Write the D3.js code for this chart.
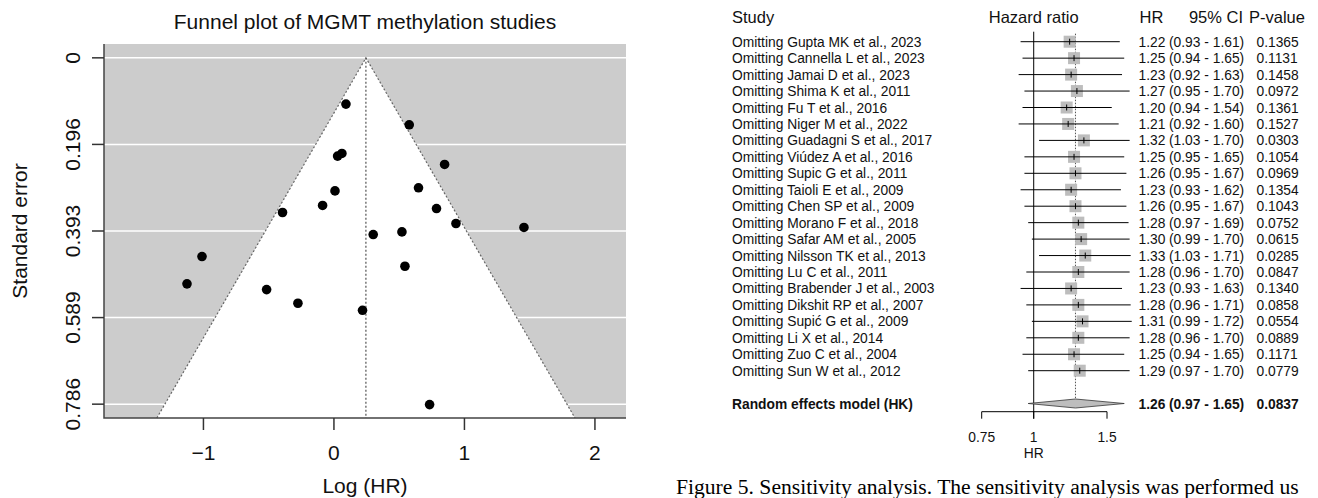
<!DOCTYPE html>
<html>
<head>
<meta charset="utf-8">
<script src="https://cdn.jsdelivr.net/npm/d3@7/dist/d3.min.js"></script>
<style>
  body { margin: 0; background: #fff; }
  svg text { font-family: "Liberation Sans", Arial, Helvetica, sans-serif; }
  svg text.caption { font-family: "Liberation Serif", "Times New Roman", serif; }
</style>
</head>
<body>
<div id="chart"></div>
<script>

////////////////////////////////////////////////////////
// Data ////////////////////////////////////////////////
////////////////////////////////////////////////////////

// funnel plot: log(HR) and standard error of each study
var logHR = [0.092, 0.577, 0.061, 0.028, 0.848, 0.648, 0.008, -0.087, 0.786, -0.394, 0.935,
             1.456, 0.521, 0.301, -1.011, 0.544, -1.126, -0.516, -0.276, 0.219, 0.733];
var stdErr = [0.105, 0.152, 0.217, 0.223, 0.242, 0.295, 0.302, 0.335, 0.342, 0.351, 0.376,
              0.385, 0.395, 0.401, 0.451, 0.473, 0.513, 0.526, 0.557, 0.573, 0.787];
var funnelEstimate = 0.245;
var seTicks = [0, 0.1965, 0.393, 0.5895, 0.786];
var seTickLabels = ["0", "0.196", "0.393", "0.589", "0.786"];
var xTicks = [-1, 0, 1, 2];

// leave-one-out forest plot
var studies = ["Omitting Gupta MK et al., 2023", "Omitting Cannella L et al., 2023", "Omitting Jamai D et al., 2023",
  "Omitting Shima K et al., 2011", "Omitting Fu T et al., 2016", "Omitting Niger M et al., 2022",
  "Omitting Guadagni S et al., 2017", "Omitting Viúdez A et al., 2016", "Omitting Supic G et al., 2011",
  "Omitting Taioli E et al., 2009", "Omitting Chen SP et al., 2009", "Omitting Morano F et al., 2018",
  "Omitting Safar AM et al., 2005", "Omitting Nilsson TK et al., 2013", "Omitting Lu C et al., 2011",
  "Omitting Brabender J et al., 2003", "Omitting Dikshit RP et al., 2007", "Omitting Supić G et al., 2009",
  "Omitting Li X et al., 2014", "Omitting Zuo C et al., 2004", "Omitting Sun W et al., 2012"];
var hr    = [1.22, 1.25, 1.23, 1.27, 1.20, 1.21, 1.32, 1.25, 1.26, 1.23, 1.26, 1.28, 1.30, 1.33, 1.28, 1.23, 1.28, 1.31, 1.28, 1.25, 1.29];
var lower = [0.93, 0.94, 0.92, 0.95, 0.94, 0.92, 1.03, 0.95, 0.95, 0.93, 0.95, 0.97, 0.99, 1.03, 0.96, 0.93, 0.96, 0.99, 0.96, 0.94, 0.97];
var upper = [1.61, 1.65, 1.63, 1.70, 1.54, 1.60, 1.70, 1.65, 1.67, 1.62, 1.67, 1.69, 1.70, 1.71, 1.70, 1.63, 1.71, 1.72, 1.70, 1.65, 1.70];
var pvals = ["0.1365", "0.1131", "0.1458", "0.0972", "0.1361", "0.1527", "0.0303", "0.1054", "0.0969", "0.1354", "0.1043",
             "0.0752", "0.0615", "0.0285", "0.0847", "0.1340", "0.0858", "0.0554", "0.0889", "0.1171", "0.0779"];
var pooled = { label: "Random effects model (HK)", hr: 1.26, lower: 0.97, upper: 1.65, p: "0.0837" };
var hrTicks = [0.75, 1, 1.5];

// caption as far as it shows in the figure crop
var caption = "Figure 5. Sensitivity analysis. The sensitivity analysis was performed us";

////////////////////////////////////////////////////////
// SVG /////////////////////////////////////////////////
////////////////////////////////////////////////////////

var cfg = { width: 1318, height: 498, back: "#cccccc", ink: "#111" };

var svg = d3.select("#chart").append("svg")
    .attr("width", cfg.width)
    .attr("height", cfg.height);

////////////////////////////////////////////////////////
// Funnel plot /////////////////////////////////////////
////////////////////////////////////////////////////////

var x = d3.scaleLinear().domain([-1.762, 2.238]).range([104, 626]);
var y = d3.scaleLinear().domain([-0.0314, 0.8174]).range([44, 418]);

var fp = svg.append("g");
var x0 = x.range()[0], x1 = x.range()[1], y0 = y.range()[0], y1 = y.range()[1];
var seMax = y.domain()[1];

fp.append("rect")
    .attr("x", x0).attr("y", y0)
    .attr("width", x1 - x0).attr("height", y1 - y0)
    .attr("fill", cfg.back);

fp.selectAll(".grid")
  .data(seTicks)
  .enter().append("line")
    .attr("x1", x0).attr("x2", x1)
    .attr("y1", function(d) { return y(d); })
    .attr("y2", function(d) { return y(d); })
    .attr("stroke", "#fff")
    .attr("stroke-width", 1.5);

// white funnel region
var funnelPts = [[funnelEstimate - 1.96 * seMax, seMax], [funnelEstimate, 0], [funnelEstimate + 1.96 * seMax, seMax]];
fp.append("path")
    .attr("d", "M" + funnelPts.map(function(p) { return x(p[0]) + "," + y(p[1]); }).join("L") + "Z")
    .attr("fill", "#fff");

fp.append("path")
    .attr("d", d3.line().x(function(p) { return x(p[0]); }).y(function(p) { return y(p[1]); })(funnelPts))
    .attr("fill", "none")
    .attr("stroke", "#666")
    .attr("stroke-width", 1.2)
    .attr("stroke-dasharray", "2,2");

fp.append("line")
    .attr("x1", x(funnelEstimate)).attr("x2", x(funnelEstimate))
    .attr("y1", y(0)).attr("y2", y1)
    .attr("stroke", "#444")
    .attr("stroke-width", 1.1)
    .attr("stroke-dasharray", "2,2");

fp.selectAll(".pt")
  .data(logHR)
  .enter().append("circle")
    .attr("cx", function(d) { return x(d); })
    .attr("cy", function(d, i) { return y(stdErr[i]); })
    .attr("r", 4.8)
    .attr("fill", "#000");

// box (left + bottom)
fp.append("path")
    .attr("d", "M" + x0 + "," + y0 + "V" + y1 + "H" + x1)
    .attr("fill", "none")
    .attr("stroke", "#444")
    .attr("stroke-width", 1.5);

// axes
fp.selectAll(".xt")
  .data(xTicks)
  .enter().append("line")
    .attr("x1", function(d) { return x(d); }).attr("x2", function(d) { return x(d); })
    .attr("y1", y1).attr("y2", y1 + 12)
    .attr("stroke", "#333").attr("stroke-width", 1.5);

fp.selectAll(".xl")
  .data(xTicks)
  .enter().append("text")
    .attr("x", function(d) { return x(d); })
    .attr("y", 460)
    .attr("text-anchor", "middle")
    .attr("font-size", 21)
    .attr("fill", cfg.ink)
    .text(function(d) { return d < 0 ? "\u2212" + Math.abs(d) : d; });

fp.selectAll(".yt")
  .data(seTicks)
  .enter().append("line")
    .attr("x1", x0 - 12).attr("x2", x0)
    .attr("y1", function(d) { return y(d); })
    .attr("y2", function(d) { return y(d); })
    .attr("stroke", "#333").attr("stroke-width", 1.5);

fp.selectAll(".yl")
  .data(seTicks)
  .enter().append("text")
    .attr("transform", function(d) { return "translate(80," + y(d) + ") rotate(-90)"; })
    .attr("text-anchor", "middle")
    .attr("font-size", 21)
    .attr("fill", cfg.ink)
    .text(function(d, i) { return seTickLabels[i]; });

fp.append("text")
    .attr("x", (x0 + x1) / 2).attr("y", 29)
    .attr("text-anchor", "middle")
    .attr("font-size", 21)
    .attr("fill", cfg.ink)
    .text("Funnel plot of MGMT methylation studies");

fp.append("text")
    .attr("x", (x0 + x1) / 2).attr("y", 493)
    .attr("text-anchor", "middle")
    .attr("font-size", 21)
    .attr("fill", cfg.ink)
    .text("Log (HR)");

fp.append("text")
    .attr("transform", "translate(27," + (y(0) + y(0.786)) / 2 + ") rotate(-90)")
    .attr("text-anchor", "middle")
    .attr("font-size", 21)
    .attr("fill", cfg.ink)
    .text("Standard error");

////////////////////////////////////////////////////////
// Forest plot /////////////////////////////////////////
////////////////////////////////////////////////////////

var fx = d3.scaleLog().domain([0.75, 1.5]).range([981.7, 1107]);
var rowY = d3.scaleLinear().domain([0, studies.length - 1]).range([41.7, 370.7]);
var diamondY = 403.5, axisY = 411.7;
var col = { study: 732, hr: 1138.5, ci: 1169, p: 1256.5 };
var rowFont = 13.8, headFont = 16.5;

var fo = svg.append("g");

// headers
fo.append("text").attr("x", col.study).attr("y", 23).attr("font-size", headFont).attr("fill", cfg.ink).text("Study");
fo.append("text").attr("x", fx(1)).attr("y", 23).attr("text-anchor", "middle").attr("font-size", headFont).attr("fill", cfg.ink).text("Hazard ratio");
fo.append("text").attr("x", col.hr + 1).attr("y", 23).attr("font-size", headFont).attr("fill", cfg.ink).text("HR");
fo.append("text").attr("x", 1243).attr("y", 23).attr("text-anchor", "end").attr("font-size", headFont).attr("fill", cfg.ink).text("95% CI");
fo.append("text").attr("x", 1249).attr("y", 23).attr("font-size", headFont).attr("fill", cfg.ink).text("P-value");

// reference line at HR = 1 and dotted pooled line
fo.append("line")
    .attr("x1", fx(1)).attr("x2", fx(1))
    .attr("y1", rowY(0) - 10).attr("y2", axisY + 7)
    .attr("stroke", "#000").attr("stroke-width", 1);

fo.append("line")
    .attr("x1", fx(pooled.hr)).attr("x2", fx(pooled.hr))
    .attr("y1", rowY(0) - 8).attr("y2", diamondY - 5)
    .attr("stroke", "#555").attr("stroke-width", 1)
    .attr("stroke-dasharray", "1.5,1.5");

var rows = fo.selectAll(".row")
  .data(studies)
  .enter().append("g")
    .attr("transform", function(d, i) { return "translate(0," + rowY(i) + ")"; });

rows.append("rect")
    .attr("x", function(d, i) { return fx(hr[i]) - 6; })
    .attr("y", -6)
    .attr("width", 12).attr("height", 12)
    .attr("fill", "#bdbdbd");

rows.append("line")
    .attr("x1", function(d, i) { return fx(lower[i]); })
    .attr("x2", function(d, i) { return fx(upper[i]); })
    .attr("y1", 0).attr("y2", 0)
    .attr("stroke", "#000").attr("stroke-width", 1);

rows.append("line")
    .attr("x1", function(d, i) { return fx(hr[i]); })
    .attr("x2", function(d, i) { return fx(hr[i]); })
    .attr("y1", -3).attr("y2", 3)
    .attr("stroke", "#000").attr("stroke-width", 1);

rows.append("text").attr("x", col.study).attr("y", 5).attr("font-size", rowFont).attr("fill", cfg.ink)
    .text(function(d) { return d; });
rows.append("text").attr("x", col.hr).attr("y", 5).attr("font-size", rowFont).attr("fill", cfg.ink)
    .text(function(d, i) { return hr[i].toFixed(2); });
rows.append("text").attr("x", col.ci).attr("y", 5).attr("font-size", rowFont).attr("fill", cfg.ink)
    .text(function(d, i) { return "(" + lower[i].toFixed(2) + " - " + upper[i].toFixed(2) + ")"; });
rows.append("text").attr("x", col.p).attr("y", 5).attr("font-size", rowFont).attr("fill", cfg.ink)
    .text(function(d, i) { return pvals[i]; });

// pooled diamond
fo.append("path")
    .attr("d", "M" + fx(pooled.lower) + "," + diamondY +
               "L" + fx(pooled.hr) + "," + (diamondY - 4.5) +
               "L" + fx(pooled.upper) + "," + diamondY +
               "L" + fx(pooled.hr) + "," + (diamondY + 4.5) + "Z")
    .attr("fill", "#bdbdbd")
    .attr("stroke", "#333")
    .attr("stroke-width", 0.8);

var pr = fo.append("g").attr("transform", "translate(0," + diamondY + ")")
    .attr("font-weight", "bold").attr("font-size", rowFont).attr("fill", cfg.ink);
pr.append("text").attr("x", col.study).attr("y", 5).text(pooled.label);
pr.append("text").attr("x", col.hr).attr("y", 5).text(pooled.hr.toFixed(2));
pr.append("text").attr("x", col.ci).attr("y", 5).text("(" + pooled.lower.toFixed(2) + " - " + pooled.upper.toFixed(2) + ")");
pr.append("text").attr("x", col.p).attr("y", 5).text(pooled.p);

// x axis
fo.append("line")
    .attr("x1", fx(hrTicks[0])).attr("x2", fx(hrTicks[hrTicks.length - 1]))
    .attr("y1", axisY).attr("y2", axisY)
    .attr("stroke", "#000").attr("stroke-width", 1);

fo.selectAll(".ht")
  .data(hrTicks)
  .enter().append("line")
    .attr("x1", function(d) { return fx(d); }).attr("x2", function(d) { return fx(d); })
    .attr("y1", axisY).attr("y2", axisY + 7)
    .attr("stroke", "#000").attr("stroke-width", 1);

fo.selectAll(".hl")
  .data(hrTicks)
  .enter().append("text")
    .attr("x", function(d) { return fx(d); })
    .attr("y", 442)
    .attr("text-anchor", "middle")
    .attr("font-size", rowFont)
    .attr("fill", cfg.ink)
    .text(function(d) { return d; });

fo.append("text")
    .attr("x", fx(1)).attr("y", 458)
    .attr("text-anchor", "middle")
    .attr("font-size", rowFont)
    .attr("fill", cfg.ink)
    .text("HR");

////////////////////////////////////////////////////////
// Caption /////////////////////////////////////////////
////////////////////////////////////////////////////////

svg.append("text")
    .attr("class", "caption")
    .attr("x", 676).attr("y", 494)
    .attr("font-size", 21.6)
    .attr("fill", "#000")
    .text(caption);

</script>
</body>
</html>
